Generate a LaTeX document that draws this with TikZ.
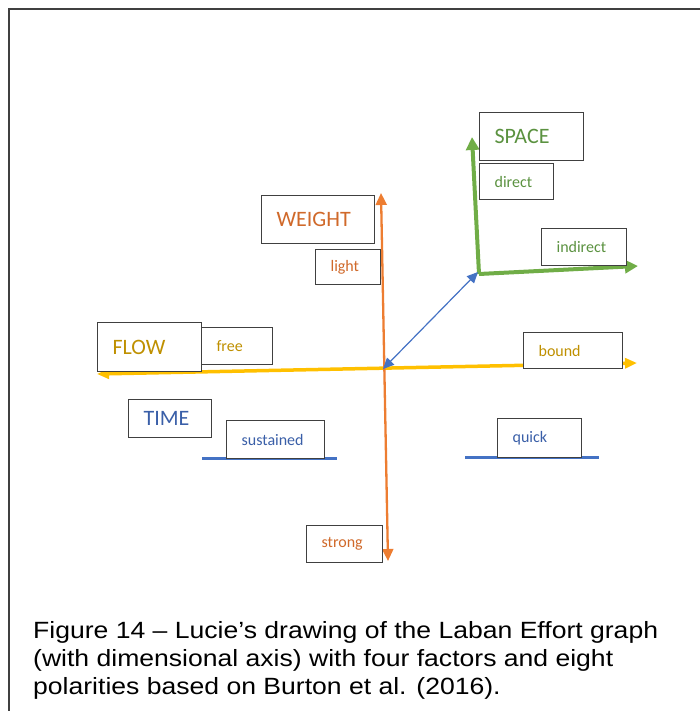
\documentclass[tikz,border=0pt]{standalone}
\usepackage{fontspec}
\setmainfont{Carlito}
\newfontfamily\capfont{Liberation Sans}
\usetikzlibrary{arrows.meta}
\definecolor{grn}{HTML}{70AD47}
\definecolor{grnT}{HTML}{5B9240}
\definecolor{org}{HTML}{ED7D31}
\definecolor{orgT}{HTML}{D0692A}
\definecolor{yel}{HTML}{FFC000}
\definecolor{yelT}{HTML}{BF9000}
\definecolor{blu}{HTML}{4472C4}
\definecolor{bluT}{HTML}{3A5FA8}
\definecolor{brd}{HTML}{404040}
\tikzset{
  box/.style={draw=brd, line width=1.2pt, fill=white, anchor=north west, inner xsep=15pt, inner ysep=0pt, align=left},
  big/.style={font=\fontsize{22}{24}\selectfont},
  small/.style={font=\fontsize{16}{18}\selectfont},
  garrow/.style={draw=grn, line width=4pt, -{Triangle[length=13pt,width=13pt]}},
  oarrow/.style={draw=org, line width=2.3pt, {Triangle[length=12pt,width=11pt]}-{Triangle[length=12pt,width=11pt]}},
  yarrow/.style={draw=yel, line width=3.5pt, {Triangle[length=12pt,width=10pt]}-{Triangle[length=12pt,width=10pt]}},
  barrow/.style={draw=blu, line width=1.2pt, {Triangle[length=11pt,width=10pt]}-{Triangle[length=11pt,width=10pt]}},
  bline/.style={draw=blu, line width=3pt},
}
\begin{document}
\begin{tikzpicture}[x=1pt,y=-1pt]
\useasboundingbox (0,0) rectangle (700,711);
% frame
\coordinate (f1) at (9,711);
\coordinate (f2) at (9,9);
\coordinate (f3) at (700,9);
\draw[brd, line width=2pt] (f1) -- (f2) -- (f3);
% axis coordinates
\coordinate (gO) at (479,274);
\coordinate (gU) at (472,137);
\coordinate (gR) at (638,266);
\coordinate (oT) at (381,193);
\coordinate (oB) at (388,561);
\coordinate (yL) at (97,374);
\coordinate (yR) at (637,363);
\coordinate (bC) at (383,369);
\coordinate (bE) at (478,272);
\coordinate (tL1) at (202,458);
\coordinate (tR1) at (337,458);
\coordinate (tL2) at (465,457);
\coordinate (tR2) at (599,457);
% connectors
\draw[yarrow] (yL) -- (yR);
\draw[oarrow] (oB) -- (oT);
\draw[garrow] (gO) -- (gU);
\draw[garrow] (gO) -- (gR);
\draw[barrow] (bC) -- (bE);
\draw[bline] (tL1) -- (tR1);
\draw[bline] (tL2) -- (tR2);
% boxes
\node[box, big, text=grnT, minimum width=104pt, minimum height=48pt, text width=74pt] (space) at (479,112) {SPACE};
\node[box, small, text=grnT, minimum width=74pt, minimum height=36pt, text width=44pt] (direct) at (479,163) {direct};
\node[box, small, text=grnT, minimum width=85pt, minimum height=37pt, text width=55pt] (indirect) at (541,228) {indirect};
\node[box, big, text=orgT, minimum width=113pt, minimum height=48pt, text width=83pt] (weight) at (261,195) {WEIGHT};
\node[box, small, text=orgT, minimum width=65pt, minimum height=35pt, text width=35pt] (light) at (315,249) {light};
\node[box, small, text=orgT, minimum width=76pt, minimum height=37pt, text width=46pt] (strong) at (306,525) {strong};
\node[box, big, text=yelT, minimum width=104pt, minimum height=49pt, text width=74pt] (flow) at (97,322) {FLOW};
\node[box, small, text=yelT, minimum width=71pt, minimum height=37pt, text width=41pt] (free) at (201,327) {free};
\node[box, small, text=yelT, minimum width=99pt, minimum height=36pt, text width=69pt] (bound) at (523,332) {bound};
\node[box, big, text=bluT, minimum width=83pt, minimum height=38pt, text width=53pt] (time) at (128,399) {TIME};
\node[box, small, text=bluT, minimum width=98pt, minimum height=38pt, text width=68pt] (sustained) at (226,420) {sustained};
\node[box, small, text=bluT, minimum width=84pt, minimum height=39pt, text width=54pt] (quick) at (497,418) {quick};
% caption
\node[anchor=base west, inner sep=0pt, font=\capfont\fontsize{23.5}{28}\selectfont] (caption) at (33,638)
 {\scalebox{1.13}[1]{\begin{tabular}[t]{@{}l@{}}Figure 14 – Lucie’s drawing of the Laban Effort graph\\(with dimensional axis) with four factors and eight\\polarities based on Burton et al. (2016).\end{tabular}}};
\end{tikzpicture}
\end{document}
